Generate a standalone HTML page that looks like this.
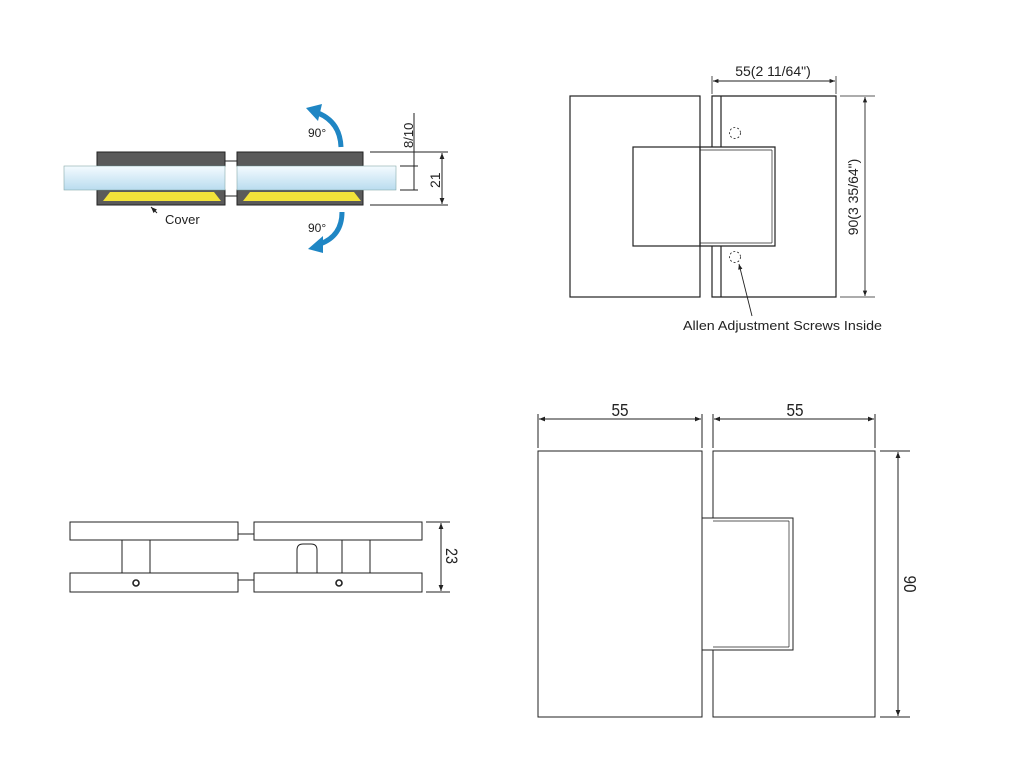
<!DOCTYPE html>
<html><head><meta charset="utf-8"><style>
html,body{margin:0;padding:0;background:#fff;}
svg{display:block;}
text{font-family:"Liberation Sans",sans-serif;fill:#222;}
</style></head><body>
<svg width="1024" height="768" viewBox="0 0 1024 768" xmlns="http://www.w3.org/2000/svg">
<defs>
<linearGradient id="g" x1="0" y1="0" x2="0" y2="1">
<stop offset="0" stop-color="#f4fbff"/><stop offset="1" stop-color="#b9dcef"/>
</linearGradient>
<marker id="a" viewBox="0 0 10 10" refX="10" refY="5" markerWidth="8" markerHeight="6" orient="auto-start-reverse"><path d="M0,1 L10,5 L0,9 z" fill="#222"/></marker>
</defs>
<!-- top-left -->
<g stroke="#222" stroke-width="1">
<line x1="225" y1="161" x2="237" y2="161"/><line x1="225" y1="196" x2="237" y2="196"/>
<rect x="97" y="152" width="128" height="14" fill="#5a5a5a"/>
<rect x="237" y="152" width="126" height="14" fill="#5a5a5a"/>
<rect x="97" y="190" width="128" height="15" fill="#5a5a5a"/>
<rect x="237" y="190" width="126" height="15" fill="#5a5a5a"/>
</g>
<polygon points="103,201 110,192 214,192 221,201" fill="#f3e33a"/>
<polygon points="243,201 250,192 354,192 361,201" fill="#f3e33a"/>
<rect x="64" y="166" width="161" height="24" fill="url(#g)" stroke="#8aa" stroke-width="0.6"/>
<rect x="237" y="166" width="159" height="24" fill="url(#g)" stroke="#8aa" stroke-width="0.6"/>
<g stroke="#222" stroke-width="1">
<line x1="370" y1="152" x2="448" y2="152"/><line x1="370" y1="205" x2="448" y2="205"/>
<line x1="400" y1="166" x2="418" y2="166"/><line x1="400" y1="190" x2="418" y2="190"/>
<line x1="414" y1="113" x2="414" y2="190"/>
<line x1="442" y1="153" x2="442" y2="204" marker-start="url(#a)" marker-end="url(#a)"/>
<line x1="157" y1="213" x2="151" y2="207" marker-end="url(#a)"/>
</g>
<text x="0" y="0" font-size="13" transform="translate(413,148) rotate(-90)">8/10</text>
<text x="0" y="0" font-size="14" transform="translate(440,188) rotate(-90)">21</text>
<text x="165" y="224" font-size="13">Cover</text>
<text x="308" y="137" font-size="12" fill="#444">90°</text>
<text x="308" y="232" font-size="12" fill="#444">90°</text>
<path d="M341,147 Q340,122 318,113" fill="none" stroke="#1f86c4" stroke-width="5"/>
<polygon points="306,108 322,104 318,121" fill="#1f86c4"/>
<path d="M342,212 Q342,236 320,244" fill="none" stroke="#1f86c4" stroke-width="5"/>
<polygon points="308,249 323,236 323,253" fill="#1f86c4"/>
<!-- top-right -->
<g stroke="#222" stroke-width="1.2" fill="none">
<rect x="570" y="96" width="130" height="201"/>
<rect x="633" y="147" width="67" height="99"/>
<path d="M712,147 V96 H836 V297 H712 V246"/>
<line x1="721" y1="96" x2="721" y2="147"/><line x1="721" y1="246" x2="721" y2="297"/>
<path d="M700,147 H775 V246 H700"/>
<line x1="700" y1="150" x2="772" y2="150" stroke-width="0.7"/>
<line x1="700" y1="243" x2="772" y2="243" stroke-width="0.7"/>
<line x1="772" y1="150" x2="772" y2="243" stroke-width="0.7"/>
<circle cx="735" cy="133" r="5.5" stroke-dasharray="2,2" stroke-width="0.8"/>
<circle cx="735" cy="257" r="5.5" stroke-dasharray="2,2" stroke-width="0.8"/>
<line x1="712" y1="94" x2="712" y2="76" stroke-width="0.8"/><line x1="836" y1="94" x2="836" y2="76" stroke-width="0.8"/>
<line x1="713" y1="81" x2="835" y2="81" stroke-width="0.9" marker-start="url(#a)" marker-end="url(#a)"/>
<line x1="840" y1="96" x2="875" y2="96" stroke-width="0.8"/><line x1="840" y1="297" x2="875" y2="297" stroke-width="0.8"/>
<line x1="865" y1="97" x2="865" y2="296" stroke-width="0.9" marker-start="url(#a)" marker-end="url(#a)"/>
<line x1="752" y1="316" x2="739" y2="264" stroke-width="0.9" marker-end="url(#a)"/>
</g>
<text x="773" y="76" font-size="14" text-anchor="middle">55(2 11/64")</text>
<text x="0" y="0" font-size="14" text-anchor="middle" transform="translate(858,197) rotate(-90)">90(3 35/64")</text>
<text x="683" y="330" font-size="13" textLength="199" lengthAdjust="spacingAndGlyphs">Allen Adjustment Screws Inside</text>
<!-- bottom-left -->
<g stroke="#222" stroke-width="1" fill="none">
<line x1="238" y1="534" x2="254" y2="534"/><line x1="238" y1="580" x2="254" y2="580"/>
<rect x="70" y="522" width="168" height="18"/><rect x="70" y="573" width="168" height="19"/>
<rect x="254" y="522" width="168" height="18"/><rect x="254" y="573" width="168" height="19"/>
<line x1="122" y1="540" x2="122" y2="573"/><line x1="150" y1="540" x2="150" y2="573"/>
<line x1="342" y1="540" x2="342" y2="573"/><line x1="370" y1="540" x2="370" y2="573"/>
<path d="M297,573 V550 Q297,544 303,544 H311 Q317,544 317,550 V573"/>
<circle cx="136" cy="583" r="3" stroke-width="1.6"/><circle cx="339" cy="583" r="3" stroke-width="1.6"/>
<line x1="426" y1="522" x2="450" y2="522"/><line x1="426" y1="592" x2="450" y2="592"/>
<line x1="441" y1="523" x2="441" y2="591" marker-start="url(#a)" marker-end="url(#a)"/>
</g>
<text x="0" y="0" font-size="17" text-anchor="middle" transform="translate(446,556) rotate(90) scale(0.85,1)">23</text>
<!-- bottom-right -->
<g stroke="#222" stroke-width="1" fill="none">
<rect x="538" y="451" width="164" height="266"/>
<path d="M713,518 V451 H875 V717 H713 V650"/>
<path d="M702,518 H793 V650 H702"/>
<line x1="713" y1="521" x2="789" y2="521" stroke-width="0.7"/>
<line x1="713" y1="647" x2="789" y2="647" stroke-width="0.7"/>
<line x1="789" y1="521" x2="789" y2="647" stroke-width="0.7"/>
<line x1="538" y1="448" x2="538" y2="414"/><line x1="702" y1="448" x2="702" y2="414"/>
<line x1="713" y1="448" x2="713" y2="414"/><line x1="875" y1="448" x2="875" y2="414"/>
<line x1="539" y1="419" x2="701" y2="419" marker-start="url(#a)" marker-end="url(#a)"/>
<line x1="714" y1="419" x2="874" y2="419" marker-start="url(#a)" marker-end="url(#a)"/>
<line x1="880" y1="451" x2="910" y2="451"/><line x1="880" y1="717" x2="910" y2="717"/>
<line x1="898" y1="452" x2="898" y2="716" marker-start="url(#a)" marker-end="url(#a)"/>
</g>
<text x="0" y="0" font-size="18" text-anchor="middle" transform="translate(620,416) scale(0.85,1)">55</text>
<text x="0" y="0" font-size="18" text-anchor="middle" transform="translate(795,416) scale(0.85,1)">55</text>
<text x="0" y="0" font-size="18" text-anchor="middle" transform="translate(904,584) rotate(90) scale(0.85,1)">90</text>
</svg>
</body></html>
